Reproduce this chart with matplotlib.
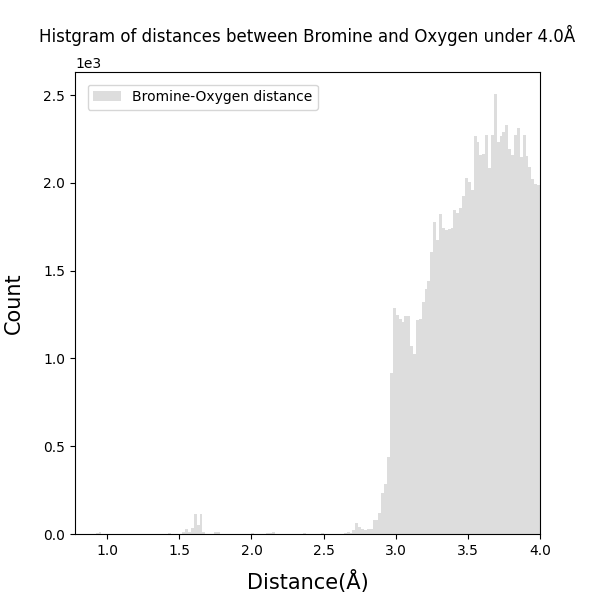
import matplotlib
matplotlib.use('Agg')
import matplotlib.pyplot as plt
import numpy as np

# histogram bins (width 0.02, right edge at 4.0)
bin_width = 0.02
first_edge = 0.90
last_edge = 4.00

# sparse low-distance bins: left edge -> count
low_bins = [0.92, 0.94, 1.42, 1.52, 1.54, 1.56, 1.58, 1.60, 1.62, 1.64, 1.66,
            1.74, 1.76, 2.00, 2.10, 2.12, 2.14, 2.36, 2.48, 2.64, 2.66, 2.68]
low_counts = [8, 10, 5, 11, 28, 11, 36, 112, 50, 114, 11,
              11, 11, 5, 4, 5, 9, 5, 4, 6, 10, 5]

# dense bins from 2.70 up to 3.98 (left edges)
dense_start = 2.70
dense_counts = [23, 63, 40, 30, 25, 30, 30, 80, 80, 118,
                232, 283, 437, 917, 1289, 1247, 1226, 1205, 1241, 1241,
                1071, 1025, 1219, 1224, 1319, 1393, 1441, 1608, 1779, 1674,
                1824, 1741, 1731, 1735, 1743, 1845, 1826, 1858, 1925, 2025,
                2005, 1957, 2266, 2234, 2158, 2162, 2272, 2086, 2272, 2506,
                2234, 2266, 2291, 2329, 2191, 2160, 2272, 2310, 2145, 2272,
                2153, 2088, 2020, 1995, 1988]

edges = np.round(np.arange(first_edge, last_edge + bin_width / 2, bin_width), 2)
counts = np.zeros(len(edges) - 1)
for b, c in zip(low_bins, low_counts):
    counts[int(round((b - first_edge) / bin_width))] = c
i0 = int(round((dense_start - first_edge) / bin_width))
counts[i0:i0 + len(dense_counts)] = dense_counts

centers = edges[:-1] + bin_width / 2

fig = plt.figure(figsize=(6, 6), dpi=100)
ax = fig.add_subplot(111)
ax.hist(centers, bins=edges, weights=counts, color='#dddddd',
        label='Bromine-Oxygen distance')
ax.set_xlim(0.7765, 4.0)
ax.ticklabel_format(axis='y', style='sci', scilimits=(0, 0))
ax.set_title('Histgram of distances between Bromine and Oxygen under 4.0Å',
             fontsize=12, pad=11)
ax.set_xlabel('Distance(Å)', fontsize=15, labelpad=9)
ax.set_ylabel('Count', fontsize=15, labelpad=14)
ax.legend(loc='upper left', borderaxespad=0.9)
fig.savefig('out.png')
